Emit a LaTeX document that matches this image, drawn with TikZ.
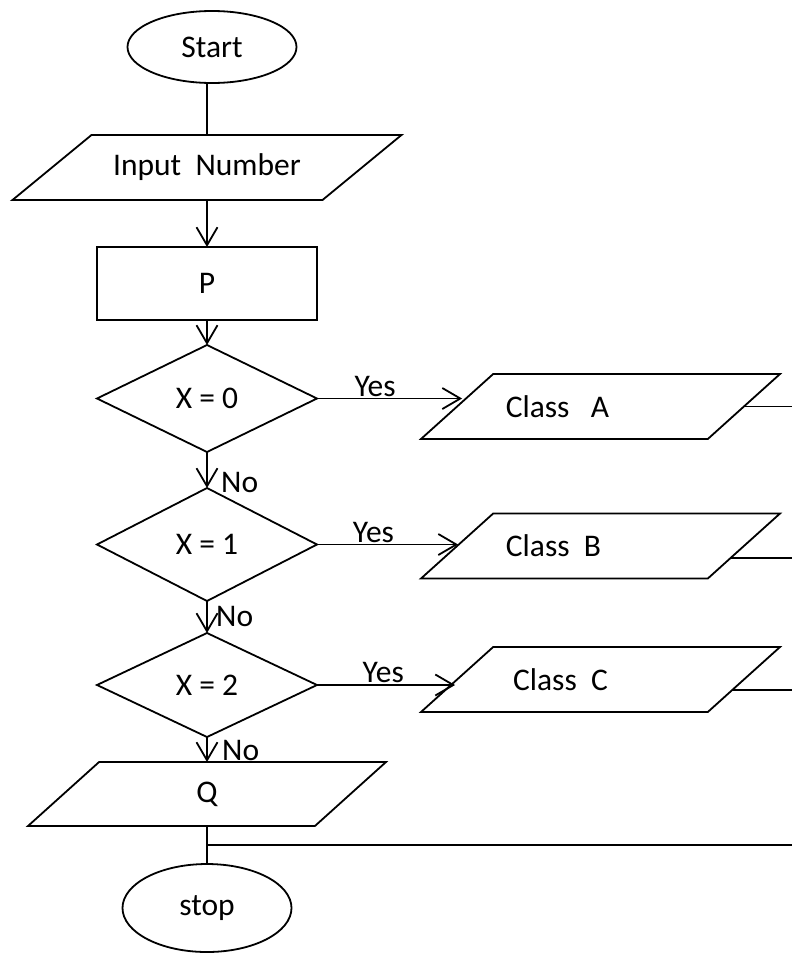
\documentclass[tikz,border=0pt]{standalone}
\usepackage{fontspec}
\setmainfont{Carlito}
\usepackage{tikz}
\usetikzlibrary{shapes.geometric,arrows.meta,positioning,calc}

\tikzset{
  every node/.style={font=\fontsize{31.5}{36}\selectfont},
  term/.style={draw, ellipse, minimum width=169pt, minimum height=72pt, inner sep=0pt, outer sep=0pt},
  io/.style={draw, trapezium, trapezium left angle=42, trapezium right angle=138,
    trapezium stretches body, minimum width=359pt, text height=22pt, text depth=6pt,
    inner xsep=0pt, inner ysep=18.5pt, outer sep=0pt},
  proc/.style={draw, rectangle, minimum width=220pt, minimum height=73pt, inner sep=0pt, outer sep=0pt},
  decision/.style={draw, diamond, aspect=2, minimum width=220pt, minimum height=107pt, inner sep=0pt, outer sep=0pt},
  flow/.style={-{Straight Barb[length=18pt,width=21pt]}},
}

\begin{document}
\begin{tikzpicture}[x=1pt, y=1pt, line width=1.8pt]
    \useasboundingbox (0,0) rectangle (792,-953);
    \coordinate (rim) at (792,0);

    % main column
    \node[term] (start) at (212,-47) {Start};
    \node[io, below=52pt of start, xshift=-5pt, minimum width=389pt,
      trapezium left angle=39.45, trapezium right angle=140.55] (inp) {Input\ \ Number};
    \node[proc, below=47pt of inp] (p) {P};
    \node[decision, below=25pt of p] (d0) {X = 0};
    \node[decision, below=36pt of d0, minimum height=113pt] (d1) {X = 1};
    \node[decision, below=32pt of d1, minimum height=104pt] (d2) {X = 2};
    \node[io, below=25pt of d2, minimum width=358pt, inner ysep=18pt] (q) {Q};
    \node[term, below=38pt of q, minimum height=88pt] (stop) {stop};

    % classes
    \node[io, label={[xshift=-43pt]center:{Class\ \ \ A}}] (ca) at (600.5,-406.5) {};
    \node[io, label={[xshift=-47pt]center:{Class\ \ B}}] (cb) at (600.5,-546) {};
    \node[io, label={[xshift=-40pt]center:{Class\ \ C}}] (cc) at (600.5,-679.5) {};

    \draw (start.south -| inp.north) -- (inp.north);
    \draw[flow] (inp) -- (p);
    \draw[flow] (p) -- (d0);
    \draw[flow] (d0) -- node[right=10pt, pos=0.86] {No} (d1);
    \draw[flow] (d1) -- node[right=5pt, pos=0.47] {No} (d2);
    \draw[flow] (d2) -- node[right=11pt, pos=0.52] {No} (q);
    \draw (q) -- (stop);

    \draw[flow] (d0.east) -- node[above, pos=0.4, inner sep=1pt] {Yes} ($(d0.east -| ca.left side)+(5,0)$);
    \draw[flow] (d1.east) -- node[above, pos=0.4, inner sep=1pt] {Yes} ($(d1.east -| cb.left side)+(1,0)$);
    \draw[flow] (d2.east) -- node[above, pos=0.48, inner sep=1pt] {Yes} ($(d2.east -| cc.left side)+(-2,0)$);

    % lines to the right edge
    \coordinate (ea) at ($(ca.top right corner)!0.5!(ca.bottom right corner)$);
    \coordinate (eb) at ($(cb.top right corner)!0.69!(cb.bottom right corner)$);
    \coordinate (ec) at ($(cc.top right corner)!0.66!(cc.bottom right corner)$);
    \coordinate (jn) at ($(q.south)!0.5!(stop.north)$);
    \draw (ea) -- (ea -| rim);
    \draw (eb) -- (eb -| rim);
    \draw (ec) -- (ec -| rim);
    \draw (jn) -- (jn -| rim);
\end{tikzpicture}
\end{document}
